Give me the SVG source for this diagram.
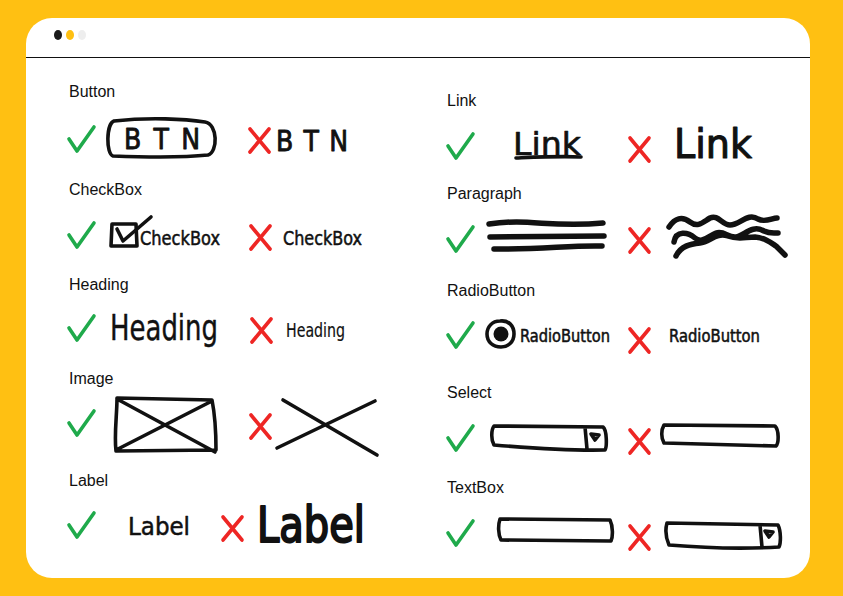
<svg xmlns="http://www.w3.org/2000/svg" width="843" height="596" viewBox="0 0 843 596">
<style>
.title{font-family:"Liberation Sans",Arial,sans-serif;font-size:16px;fill:#111}
.hand{font-family:"DejaVu Sans Condensed","DejaVu Sans",sans-serif;fill:#111;stroke:#111;stroke-linejoin:round}
.ok{fill:none;stroke:#1FAA4B;stroke-width:3.6;stroke-linecap:round;stroke-linejoin:round}
.no{fill:none;stroke:#EE2624;stroke-width:3.6;stroke-linecap:round}
.ink{fill:none;stroke:#111;stroke-width:3.6;stroke-linecap:round;stroke-linejoin:round}
.thick{fill:none;stroke:#111;stroke-width:5.5;stroke-linecap:round;stroke-linejoin:round}
</style>
<defs>
<path id="chk" d="M0,12 L8,24 L25,0"/>
<path id="crs" d="M0,0 L19,23 M19,0 L0,23"/>
</defs>
<rect width="843" height="596" fill="#FFC012"/>
<g id="window">
<rect x="26" y="18" width="784" height="560" rx="26" fill="#fff"/>
<line x1="26" y1="57.5" x2="810" y2="57.5" stroke="#111" stroke-width="1.2"/>
<ellipse cx="58" cy="35" rx="4" ry="5" fill="#1a1a1a"/>
<ellipse cx="70" cy="35" rx="4" ry="5" fill="#FFC012"/>
<ellipse cx="82" cy="35" rx="4" ry="5" fill="#eee"/>
</g>

<g id="button">
<text class="title" x="69" y="97">Button</text>
<use href="#chk" class="ok" x="69" y="127"/>
<path class="ink" d="M114,121 C150,117 185,119 205,122 C218,124 218,152 208,155 C180,158 140,157 113,156 C106,154 106,124 114,121 Z"/>
<text class="hand" x="124" y="149" font-size="28" stroke-width="0.8" textLength="76" lengthAdjust="spacing">BTN</text>
<use href="#crs" class="no" x="250" y="129"/>
<text class="hand" x="276" y="151" font-size="28" stroke-width="0.8" textLength="72" lengthAdjust="spacing">BTN</text>
</g>

<g id="checkbox">
<text class="title" x="69" y="195">CheckBox</text>
<use href="#chk" class="ok" x="69" y="223"/>
<path class="ink" d="M112,224 L136,224 L137,246 L111,246 Z"/>
<path class="ink" d="M117,229 L123,241 L151,217"/>
<text class="hand" x="140" y="245" font-size="20" stroke-width="0.5" textLength="80" lengthAdjust="spacingAndGlyphs">CheckBox</text>
<use href="#crs" class="no" x="251" y="226"/>
<text class="hand" x="283" y="245" font-size="20" stroke-width="0.5" textLength="79" lengthAdjust="spacingAndGlyphs">CheckBox</text>
</g>

<g id="heading">
<text class="title" x="69" y="290">Heading</text>
<use href="#chk" class="ok" x="69" y="316"/>
<text class="hand" x="110" y="340" font-size="36" stroke-width="0.4" textLength="108" lengthAdjust="spacingAndGlyphs">Heading</text>
<use href="#crs" class="no" x="252" y="319"/>
<text class="hand" x="286" y="337" font-size="19" stroke-width="0.2" textLength="59" lengthAdjust="spacingAndGlyphs">Heading</text>
</g>

<g id="image">
<text class="title" x="69" y="384">Image</text>
<use href="#chk" class="ok" x="69" y="411"/>
<path class="ink" d="M117,398 L212,400 C215,415 216,435 216,450 L116,451 C114,435 117,415 117,398 Z M117,399 L215,452 M116,450 L212,401"/>
<use href="#crs" class="no" x="251" y="415"/>
<path class="ink" d="M277,448 L375,401 M283,400 L377,455"/>
</g>

<g id="label">
<text class="title" x="69" y="486">Label</text>
<use href="#chk" class="ok" x="69" y="513"/>
<text class="hand" x="128" y="535" font-size="25" stroke-width="0.5" textLength="62" lengthAdjust="spacingAndGlyphs">Label</text>
<use href="#crs" class="no" x="223" y="517"/>
<text class="hand" x="257" y="542" font-size="50" stroke-width="2" textLength="108" lengthAdjust="spacingAndGlyphs">Label</text>
</g>

<g id="link">
<text class="title" x="447" y="106">Link</text>
<use href="#chk" class="ok" x="448" y="134"/>
<text class="hand" x="513" y="155" font-size="32" stroke-width="0.6" textLength="68" lengthAdjust="spacingAndGlyphs">Link</text>
<path class="ink" d="M516,158 C540,157 560,156 581,157"/>
<use href="#crs" class="no" x="630" y="138"/>
<text class="hand" x="674" y="158" font-size="40" stroke-width="1" textLength="78" lengthAdjust="spacingAndGlyphs">Link</text>
</g>

<g id="paragraph">
<text class="title" x="447" y="199">Paragraph</text>
<use href="#chk" class="ok" x="448" y="227"/>
<path class="thick" d="M489,224 C530,218 550,228 603,223 M490,237 L604,236 M494,249 C540,250 570,245 602,246"/>
<use href="#crs" class="no" x="630" y="229"/>
<path class="thick" d="M669,227 C675,218 682,216 690,222 C698,228 703,222 710,218 C718,214 722,225 730,225 C740,225 748,212 758,219 C765,223 772,218 777,218 M674,242 C676,230 688,232 695,238 C702,244 708,236 716,233 C724,230 728,238 736,237 C744,236 752,224 764,231 C770,234 774,233 778,233 M676,256 C681,246 690,244 700,243 C710,242 716,232 728,236 C738,240 745,237 755,237 C765,238 770,242 776,246 L785,255"/>
</g>

<g id="radiobutton">
<text class="title" x="447" y="296">RadioButton</text>
<use href="#chk" class="ok" x="448" y="323"/>
<path class="ink" d="M500,321 C509,320 514,326 514,334 C514,342 508,347 501,347 C493,347 487,342 487,334 C487,327 492,321 500,321 Z"/>
<circle cx="501" cy="334" r="7.5" fill="#111"/>
<text class="hand" x="520" y="342" font-size="17" stroke-width="0.5" textLength="90" lengthAdjust="spacingAndGlyphs">RadioButton</text>
<use href="#crs" class="no" x="630" y="329"/>
<text class="hand" x="669" y="342" font-size="17" stroke-width="0.5" textLength="91" lengthAdjust="spacingAndGlyphs">RadioButton</text>
</g>

<g id="select">
<text class="title" x="447" y="398">Select</text>
<use href="#chk" class="ok" x="448" y="426"/>
<path class="ink" d="M494,426 L603,427 C607,430 607,447 605,450 C570,451 530,448 494,445 C491,440 491,430 494,426 Z M585,427 L587,449"/>
<path class="ink" d="M591,434 L599,435 L595,440 Z" stroke-width="2.2"/>
<use href="#crs" class="no" x="630" y="430"/>
<path class="ink" d="M664,425 L775,426 C779,430 779,443 776,446 L664,443 C661,438 661,430 664,425 Z"/>
</g>

<g id="textbox">
<text class="title" x="447" y="493">TextBox</text>
<use href="#chk" class="ok" x="448" y="521"/>
<path class="ink" d="M500,519 L610,520 C613,526 613,537 611,541 L501,540 C498,534 498,525 500,519 Z"/>
<use href="#crs" class="no" x="630" y="526"/>
<path class="ink" d="M667,523 L778,525 C781,531 781,543 779,547 C745,549 705,548 669,545 C666,538 665,530 667,523 Z M760,525 L762,547"/>
<path class="ink" d="M765,531 L773,532 L769,537 Z" stroke-width="2.2"/>
</g>
</svg>
